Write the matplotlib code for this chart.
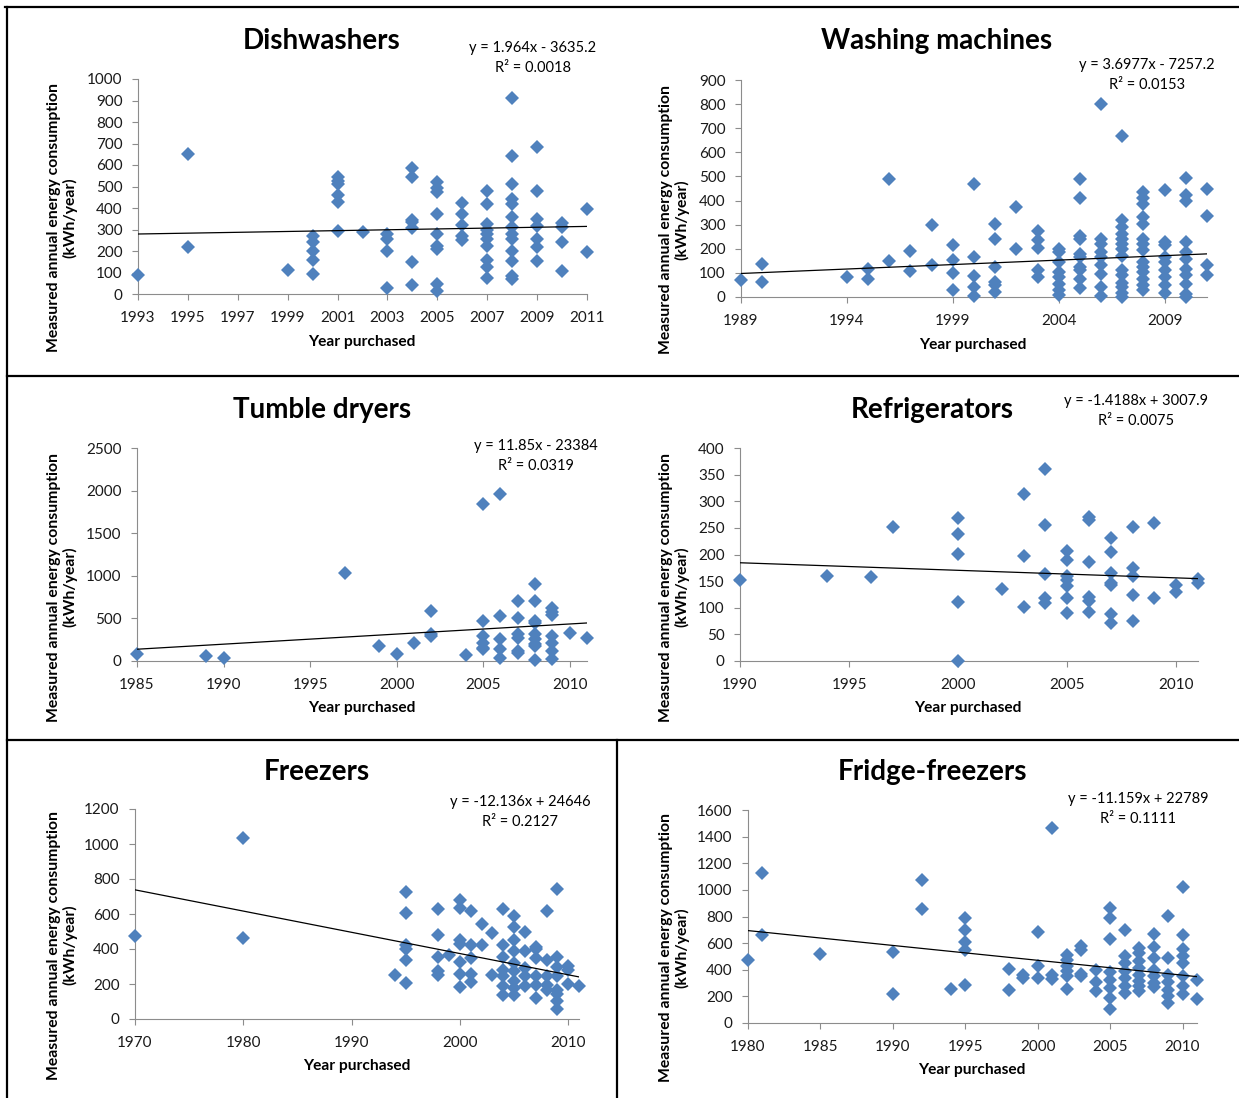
import numpy as np
import matplotlib.pyplot as plt
from matplotlib.lines import Line2D

plt.rcParams['font.family'] = ['Lato', 'DejaVu Sans']

W, H = 1239, 1098

# ---- data (year purchased, kWh/year) ----
dish_year = [1993, 1995, 1995, 1999,
             2000, 2000, 2000, 2000, 2000,
             2001, 2001, 2001, 2001, 2001, 2001,
             2002,
             2003, 2003, 2003, 2003,
             2004, 2004, 2004, 2004, 2004, 2004, 2004,
             2005, 2005, 2005, 2005, 2005, 2005, 2005, 2005, 2005,
             2006, 2006, 2006, 2006, 2006,
             2007, 2007, 2007, 2007, 2007, 2007, 2007, 2007, 2007, 2007,
             2008, 2008, 2008, 2008, 2008, 2008, 2008, 2008, 2008, 2008, 2008, 2008, 2008,
             2009, 2009, 2009, 2009, 2009, 2009, 2009,
             2010, 2010, 2010, 2010,
             2011, 2011]
dish_kwh = [90, 650, 220, 110,
            270, 240, 200, 160, 95,
            545, 525, 510, 460, 430, 295,
            290,
            280, 255, 200, 30,
            585, 545, 345, 335, 305, 150, 40,
            520, 495, 475, 370, 280, 225, 210, 45, 15,
            425, 370, 320, 270, 250,
            480, 420, 325, 300, 280, 255, 225, 160, 125, 75,
            910, 640, 512, 442, 419, 357, 310, 279, 256, 202, 152, 85, 70,
            682, 481, 349, 318, 256, 217, 152,
            329, 310, 240, 108,
            395, 197]

wash_year = [1989, 1990, 1990, 1994, 1995, 1995, 1996, 1996, 1997, 1997, 1998, 1998,
             1999, 1999, 1999, 1999,
             2000, 2000, 2000, 2000, 2000,
             2001, 2001, 2001, 2001, 2001, 2001,
             2002, 2002,
             2003, 2003, 2003, 2003, 2003,
             2004, 2004, 2004, 2004, 2004, 2004, 2004, 2004,
             2005, 2005, 2005, 2005, 2005, 2005, 2005, 2005, 2005, 2005,
             2006, 2006, 2006, 2006, 2006, 2006, 2006, 2006, 2006,
             2007, 2007, 2007, 2007, 2007, 2007, 2007, 2007, 2007, 2007, 2007, 2007, 2007, 2007,
             2008, 2008, 2008, 2008, 2008, 2008, 2008, 2008, 2008, 2008, 2008, 2008, 2008, 2008,
             2009, 2009, 2009, 2009, 2009, 2009, 2009, 2009, 2009,
             2010, 2010, 2010, 2010, 2010, 2010, 2010, 2010, 2010, 2010, 2010,
             2011, 2011, 2011, 2011]
wash_kwh = [72, 138, 61, 83, 115, 76, 489, 149, 189, 108, 300, 131,
            217, 155, 101, 28,
            469, 166, 86, 41, 3,
            301, 242, 124, 62, 48, 21,
            375, 200,
            273, 235, 204, 110, 83,
            200, 186, 145, 104, 83, 55, 28, 7,
            490, 410, 253, 242, 179, 166, 124, 110, 76, 39,
            801, 242, 221, 186, 166, 131, 97, 41, 3,
            667, 320, 290, 260, 240, 220, 200, 170, 110, 90, 60, 40, 15, 2,
            435, 410, 387, 331, 304, 242, 221, 193, 145, 124, 104, 76, 48, 28,
            442, 228, 214, 166, 145, 110, 83, 48, 17,
            494, 421, 398, 228, 186, 159, 117, 90, 55, 14, 0,
            449, 335, 134, 90]

dry_year = [1985, 1989, 1990, 1997, 1999, 2000, 2001, 2002, 2002, 2002, 2004,
            2005, 2005, 2005, 2005, 2005, 2005,
            2006, 2006, 2006, 2006, 2006,
            2007, 2007, 2007, 2007, 2007, 2007,
            2008, 2008, 2008, 2008, 2008, 2008, 2008, 2008, 2008,
            2009, 2009, 2009, 2009, 2009, 2009, 2009,
            2010, 2011]
dry_kwh = [78, 59, 39, 1027, 176, 78, 207, 586, 312, 293, 70,
           1848, 469, 293, 215, 156, 137,
           1961, 527, 254, 137, 39,
           703, 508, 312, 273, 117, 90,
           906, 703, 469, 449, 312, 254, 195, 176, 8,
           625, 574, 535, 293, 215, 117, 20,
           324, 266]

fridge_year = [1990, 1994, 1996, 1997,
               2000, 2000, 2000, 2000, 2000,
               2002, 2003, 2003, 2003,
               2004, 2004, 2004, 2004, 2004,
               2005, 2005, 2005, 2005, 2005, 2005, 2005,
               2006, 2006, 2006, 2006, 2006, 2006,
               2007, 2007, 2007, 2007, 2007, 2007, 2007,
               2008, 2008, 2008, 2008, 2008,
               2009, 2009, 2010, 2010, 2011, 2011]
fridge_kwh = [152, 160, 157, 251,
              268, 238, 201, 111, 0,
              136, 314, 197, 101,
              360, 256, 163, 119, 108,
              207, 190, 159, 152, 140, 119, 91,
              270, 265, 185, 121, 113, 92,
              231, 204, 166, 146, 143, 88, 71,
              251, 174, 160, 124, 76,
              259, 118, 143, 130, 154, 147]

freez_year = [1970, 1980, 1980, 1994,
              1995, 1995, 1995, 1995, 1995, 1995,
              1998, 1998, 1998, 1998, 1998, 1999,
              2000, 2000, 2000, 2000, 2000, 2000, 2000,
              2001, 2001, 2001, 2001, 2001,
              2002, 2002, 2003, 2003,
              2004, 2004, 2004, 2004, 2004, 2004, 2004,
              2005, 2005, 2005, 2005, 2005, 2005, 2005, 2005, 2005,
              2006, 2006, 2006, 2006, 2006,
              2007, 2007, 2007, 2007, 2007, 2007,
              2008, 2008, 2008, 2008, 2008,
              2009, 2009, 2009, 2009, 2009, 2009, 2009, 2009,
              2010, 2010, 2010, 2011]
freez_kwh = [477, 1036, 462, 249,
             728, 608, 424, 401, 338, 205,
             627, 481, 357, 272, 253, 363,
             681, 633, 452, 428, 325, 257, 181,
             616, 424, 348, 259, 211,
             544, 424, 494, 253,
             627, 424, 357, 281, 243, 190, 139,
             591, 523, 452, 390, 319, 272, 215, 177, 139,
             500, 386, 291, 243, 186,
             414, 399, 348, 243, 196, 120,
             620, 338, 243, 196, 167,
             741, 357, 300, 243, 167, 144, 101, 59,
             304, 281, 201, 186]

ff_year = [1980, 1981, 1981, 1985, 1990, 1990, 1992, 1992, 1994,
           1995, 1995, 1995, 1995, 1995,
           1998, 1998, 1999, 1999, 2000, 2000, 2000, 2001, 2001, 2001,
           2002, 2002, 2002, 2002, 2002, 2002,
           2003, 2003, 2003, 2003,
           2004, 2004, 2004,
           2005, 2005, 2005, 2005, 2005, 2005, 2005, 2005,
           2006, 2006, 2006, 2006, 2006, 2006, 2006,
           2007, 2007, 2007, 2007, 2007, 2007, 2007, 2007,
           2008, 2008, 2008, 2008, 2008, 2008, 2008,
           2009, 2009, 2009, 2009, 2009, 2009, 2009,
           2010, 2010, 2010, 2010, 2010, 2010, 2010, 2010,
           2011, 2011]
ff_kwh = [470, 1130, 662, 517, 530, 220, 1075, 855, 255,
          792, 700, 612, 550, 282,
          405, 245, 362, 337, 687, 430, 337, 1467, 362, 330,
          512, 470, 425, 387, 350, 257,
          580, 550, 367, 355,
          400, 305, 237,
          867, 787, 632, 380, 325, 262, 187, 105,
          700, 500, 450, 387, 337, 275, 225,
          562, 525, 462, 412, 362, 312, 275, 237,
          670, 570, 487, 400, 350, 300, 270,
          807, 487, 362, 305, 250, 200, 150,
          1025, 662, 555, 500, 450, 350, 275, 220,
          320, 182]

titles = ['Dishwashers', 'Washing machines', 'Tumble dryers',
          'Refrigerators', 'Freezers', 'Fridge-freezers']
slopes = [1.964, 3.6977, 11.85, -1.4188, -12.136, -11.159]
intercepts = [-3635.2, -7257.2, -23384, 3007.9, 24646, 22789]
eq_labels = ['y = 1.964x - 3635.2', 'y = 3.6977x - 7257.2', 'y = 11.85x - 23384',
             'y = -1.4188x + 3007.9', 'y = -12.136x + 24646', 'y = -11.159x + 22789']
r2_labels = ['R² = 0.0018', 'R² = 0.0153', 'R² = 0.0319',
             'R² = 0.0075', 'R² = 0.2127', 'R² = 0.1111']

xs = [dish_year, wash_year, dry_year, fridge_year, freez_year, ff_year]
ys = [dish_kwh, wash_kwh, dry_kwh, fridge_kwh, freez_kwh, ff_kwh]
xlims = [(1993, 2011), (1989, 2011), (1985, 2011), (1990, 2011), (1970, 2011), (1980, 2011)]
xticks = [np.arange(1993, 2012, 2), np.arange(1989, 2011, 5), np.arange(1985, 2011, 5),
          np.arange(1990, 2011, 5), np.arange(1970, 2011, 10), np.arange(1980, 2011, 5)]
ylims = [1000, 900, 2500, 400, 1200, 1600]
ysteps = [100, 100, 500, 50, 200, 200]

# layout in pixels: axes box (left, right, top, bottom)
boxes = [(138, 587, 79, 294), (741, 1207, 80, 297), (137, 587, 448, 661),
         (740, 1198, 448, 661), (135, 579, 809, 1019), (748, 1197, 810, 1023)]
title_pos = [(322, 41), (937, 41), (322, 410), (932, 410), (317, 772), (932, 772)]
eq_pos = [(533, 58), (1147, 75), (536, 456), (1136, 411), (520, 812), (1138, 809)]
ylab_pos = [(62, 218), (674, 220), (62, 587), (674, 587), (62, 945), (674, 948)]
xlab_pos = [(362, 342), (973, 345), (362, 708), (968, 708), (357, 1066), (972, 1070)]

fig = plt.figure(figsize=(W / 100, H / 100), dpi=100)


def fx(x):
    return x / W


def fy(y):
    return 1 - y / H


for i in range(6):
    l, r, t, b = boxes[i]
    ax = fig.add_axes([fx(l), fy(b), (r - l) / W, (b - t) / H])
    ax.plot(xs[i], ys[i], linestyle='none', marker='D', markersize=7.3,
            color='#4F81BD', markeredgewidth=0, clip_on=False, zorder=3)
    x0, x1 = xlims[i]
    tx = np.array([x0, x1])
    ax.plot(tx, slopes[i] * tx + intercepts[i], color='black', lw=0.9, zorder=4)
    ax.set_xlim(x0, x1)
    ax.set_ylim(0, ylims[i])
    ax.set_xticks(xticks[i])
    ax.set_yticks(np.arange(0, ylims[i] + 1, ysteps[i]))
    for s in ['top', 'right']:
        ax.spines[s].set_visible(False)
    for s in ['left', 'bottom']:
        ax.spines[s].set_color('#8c8c8c')
        ax.spines[s].set_linewidth(0.8)
    ax.tick_params(direction='out', length=4, width=0.8, color='#8c8c8c',
                   labelsize=11, labelcolor='#1a1a1a')
    ax.tick_params(axis='x', pad=8)
    ax.tick_params(axis='y', pad=7)
    ax.patch.set_alpha(0)

    fig.text(fx(title_pos[i][0]), fy(title_pos[i][1]), titles[i], fontsize=20,
             fontweight='bold', ha='center', va='center')
    fig.text(fx(eq_pos[i][0]), fy(eq_pos[i][1]), eq_labels[i] + '\n' + r2_labels[i],
             fontsize=10.5, ha='center', va='center', linespacing=1.6)
    fig.text(fx(ylab_pos[i][0]), fy(ylab_pos[i][1]),
             'Measured annual energy consumption\n(kWh/year)', fontsize=11.3,
             fontweight='bold', rotation=90, ha='center', va='center', linespacing=1.15)
    fig.text(fx(xlab_pos[i][0]), fy(xlab_pos[i][1]), 'Year purchased', fontsize=11.2,
             fontweight='bold', ha='center', va='center')

# panel border lines
borders = [((5, 1239), (7, 7)), ((7, 7), (7, 1098)), ((7, 1239), (376, 376)),
           ((7, 1239), (740, 740)), ((617, 617), (740, 1098))]
for (xa, xb), (ya, yb) in borders:
    fig.add_artist(Line2D([fx(xa), fx(xb)], [fy(ya), fy(yb)], color='black', lw=1.6))

fig.savefig('out.png', dpi=100)
